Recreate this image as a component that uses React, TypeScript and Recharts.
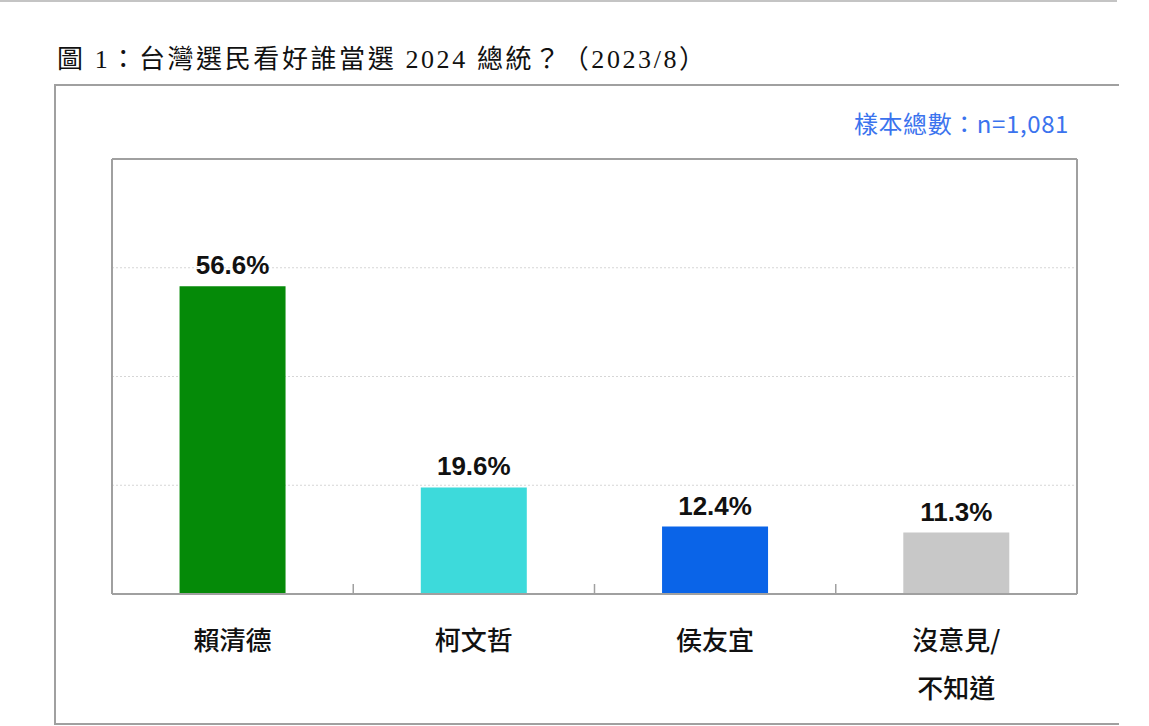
import React from 'react'
import {
  BarChart,
  Bar,
  XAxis,
  YAxis,
  CartesianGrid,
  Cell,
  LabelList,
} from 'recharts'

// 資料
const candidates = ['賴清德', '柯文哲', '侯友宜', '沒意見/\n不知道']
const shares = [56.6, 19.6, 12.4, 11.3]
const yTicks = [0, 20, 40, 60, 80]

const barColors = ['#058A08', '#3DDADB', '#0A64E8', '#C8C8C8']

const W = 1149
const H = 726
const M = { top: 158, right: 71, bottom: 12, left: 111 }
const AXIS_H = 120
const BAND = (W - M.left - M.right - 2) / candidates.length
const FRAME = '#a0a0a0'

const data = candidates.map((name, i) => ({ name, value: shares[i] }))

const NoTick = () => <g />

function CategoryTick({ x, y, payload, index }: any) {
  const lines = String(payload.value).split('\n')
  return (
    <g>
      {index < candidates.length - 1 && (
        <line x1={x + BAND / 2} x2={x + BAND / 2} y1={y} y2={y - 10} stroke={FRAME} strokeWidth={1.5} />
      )}
      {lines.map((line, i) => (
        <text
          key={i}
          x={x}
          y={y + 56 + i * 48}
          textAnchor="middle"
          fontSize={26}
          fontWeight={500}
          fill="#111"
          fontFamily='"Noto Sans CJK TC", "Noto Sans", sans-serif'
        >
          {line}
        </text>
      ))}
    </g>
  )
}

export default function App() {
  return (
    <div
      style={{
        position: 'absolute',
        left: 0,
        top: 0,
        width: W,
        height: H,
        background: '#fff',
        overflow: 'hidden',
      }}
    >
      {/* 頂端分隔線 */}
      <div style={{ position: 'absolute', left: 0, top: 0, width: 1117, height: 2, background: '#c4c4c4' }} />

      {/* 標題 */}
      <div
        style={{
          position: 'absolute',
          left: 57,
          top: 44,
          fontSize: 26,
          letterSpacing: 2.6,
          lineHeight: '32px',
          whiteSpace: 'nowrap',
          color: '#111',
          fontFamily: '"Liberation Serif", "Noto Sans CJK TC", serif',
        }}
      >
        圖 1：台灣選民看好誰當選 2024 總統？（2023/8）
      </div>

      {/* 外框 */}
      <div
        style={{
          position: 'absolute',
          left: 54,
          top: 84,
          width: 1063,
          height: 637,
          borderLeft: `2px solid ${FRAME}`,
          borderTop: `2px solid ${FRAME}`,
          borderBottom: `2px solid ${FRAME}`,
        }}
      />

      {/* 樣本數 */}
      <div
        style={{
          position: 'absolute',
          right: W - 1069,
          top: 107,
          fontSize: 24,
          letterSpacing: 0.6,
          lineHeight: '32px',
          color: '#3B73EE',
          whiteSpace: 'nowrap',
          fontFamily: '"Noto Sans CJK TC", "Noto Sans", sans-serif',
        }}
      >
        樣本總數：n=1,081
      </div>

      <div style={{ position: 'absolute', left: 0, top: 0 }}>
        <BarChart width={W} height={H} data={data} margin={M} barCategoryGap="28%">
          <CartesianGrid horizontal vertical={false} stroke="#d6d6d6" strokeDasharray="2 2" />
          <XAxis
            xAxisId="top"
            orientation="top"
            dataKey="name"
            height={1}
            tick={NoTick}
            tickLine={false}
            axisLine={{ stroke: FRAME, strokeWidth: 2 }}
          />
          <XAxis
            dataKey="name"
            height={AXIS_H}
            interval={0}
            tickSize={0}
            tickMargin={0}
            tickLine={false}
            axisLine={{ stroke: FRAME, strokeWidth: 2 }}
            tick={<CategoryTick />}
          />
          <YAxis
            domain={[0, 80]}
            ticks={yTicks}
            width={1}
            tick={NoTick}
            tickLine={false}
            axisLine={{ stroke: FRAME, strokeWidth: 2 }}
          />
          <YAxis
            yAxisId="right"
            orientation="right"
            domain={[0, 80]}
            ticks={yTicks}
            width={1}
            tick={NoTick}
            tickLine={false}
            axisLine={{ stroke: FRAME, strokeWidth: 2 }}
          />
          <Bar dataKey="value" isAnimationActive={false}>
            {data.map((d, i) => (
              <Cell key={d.name} fill={barColors[i]} />
            ))}
            <LabelList
              dataKey="value"
              position="top"
              offset={12}
              formatter={(v: any) => `${Number(v).toFixed(1)}%`}
              style={{
                fontSize: 26,
                fontWeight: 700,
                fill: '#111',
                fontFamily: '"Liberation Sans", Arial, sans-serif',
              }}
            />
          </Bar>
        </BarChart>
      </div>
    </div>
  )
}
